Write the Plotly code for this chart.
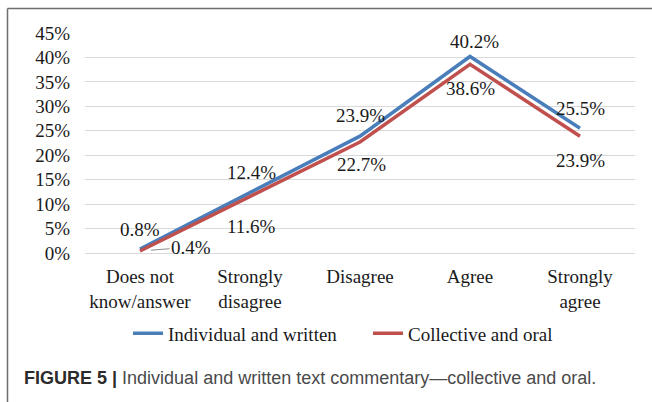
import plotly.graph_objects as go

# Survey response categories and tick labels
categories = ["Does not know/answer", "Strongly disagree", "Disagree", "Agree", "Strongly agree"]
tick_labels = ["Does not<br>know/answer", "Strongly<br>disagree", "Disagree", "Agree", "Strongly<br>agree"]

# Percentage of responses per series
individual_written = [0.8, 12.4, 23.9, 40.2, 25.5]
collective_oral = [0.4, 11.6, 22.7, 38.6, 23.9]

series_names = ["Individual and written", "Collective and oral"]
series_colors = ["#4A7EBB", "#C0504D"]

# Data-label offsets in pixels (xshift, yshift) for each point
blue_label_shift = [(0, 20), (1, 20), (0, 21), (4, 15), (0, 20)]
red_label_shift = [(0, 0), (1, -30), (1, -22), (0, -24), (0, -24)]

SERIF = "Liberation Serif"
SANS = "Liberation Sans"
TXT = "#1a1a1a"

W, H = 652, 402
L, R, T, B = 85, 17, 33, 148.5
PW, PH = W - L - R, H - T - B


def px_to_paper_x(px):
    return (px - L) / PW


def px_to_paper_y(py):
    return (H - B - py) / PH


fig = go.Figure()
for name, vals, col in zip(series_names, [individual_written, collective_oral], series_colors):
    fig.add_trace(go.Scatter(
        x=categories, y=vals, mode="lines", name=name,
        line=dict(color=col, width=3.5),
        hoverinfo="skip",
    ))

annotations = []
for cat, v, (dx, dy) in zip(categories, individual_written, blue_label_shift):
    annotations.append(dict(
        x=cat, y=v, text=f"{v:.1f}%", showarrow=False,
        xshift=dx, yshift=dy, font=dict(family=SERIF, size=19, color=TXT),
    ))
for i, (cat, v, (dx, dy)) in enumerate(zip(categories, collective_oral, red_label_shift)):
    if i == 0:
        # small value label pulled to the right with a leader line
        annotations.append(dict(
            x=cat, y=v, text=f"{v:.1f}%", showarrow=True,
            ax=51, ay=-4, arrowhead=0, arrowwidth=1, arrowcolor="#8c8c8c",
            standoff=11, font=dict(family=SERIF, size=19, color=TXT),
        ))
    else:
        annotations.append(dict(
            x=cat, y=v, text=f"{v:.1f}%", showarrow=False,
            xshift=dx, yshift=dy, font=dict(family=SERIF, size=19, color=TXT),
        ))

# Figure caption
annotations.append(dict(
    xref="paper", yref="paper", x=px_to_paper_x(22), y=px_to_paper_y(379),
    xanchor="left", yanchor="middle", showarrow=False,
    text="<b><span style='color:#2b2b2b'>FIGURE 5 |</span></b> "
         "<span style='color:#4a4a4a'>Individual and written text commentary\u2014collective and oral.</span>",
    font=dict(family=SANS, size=18),
))

# Outer frame: top and left rules
frame_color = "#6e6e6e"
shapes = [
    dict(type="line", xref="paper", yref="paper",
         x0=px_to_paper_x(7.5), x1=px_to_paper_x(W + 2),
         y0=px_to_paper_y(8.5), y1=px_to_paper_y(8.5),
         line=dict(color=frame_color, width=1.5)),
    dict(type="line", xref="paper", yref="paper",
         x0=px_to_paper_x(7.5), x1=px_to_paper_x(7.5),
         y0=px_to_paper_y(8.5), y1=px_to_paper_y(H + 2),
         line=dict(color=frame_color, width=1.5)),
]

fig.update_layout(
    width=W, height=H,
    margin=dict(l=L, r=R, t=T, b=B),
    paper_bgcolor="white", plot_bgcolor="white",
    font=dict(family=SERIF, size=19, color=TXT),
    showlegend=True,
    legend=dict(
        orientation="h", x=px_to_paper_x(128), y=px_to_paper_y(334),
        xanchor="left", yanchor="middle",
        font=dict(family=SERIF, size=19, color=TXT),
        itemwidth=30, entrywidth=195, bgcolor="rgba(0,0,0,0)",
    ),
    xaxis=dict(
        type="category", categoryarray=categories, range=[-0.5, 4.5],
        tickvals=categories, ticktext=tick_labels,
        showgrid=False, zeroline=False, showline=False, ticks="",
        ticklabelstandoff=10,
        tickfont=dict(family=SERIF, size=19, color=TXT),
        fixedrange=True,
    ),
    yaxis=dict(
        range=[0, 45], dtick=5, ticksuffix="%",
        showgrid=True, gridcolor="#d9d9d9", gridwidth=1.3,
        zeroline=True, zerolinecolor="#d9d9d9", zerolinewidth=1.3,
        showline=False, ticks="", ticklabelstandoff=14,
        tickfont=dict(family=SERIF, size=19, color=TXT),
        fixedrange=True,
    ),
    annotations=annotations,
    shapes=shapes,
)

fig.write_html("out.html")
